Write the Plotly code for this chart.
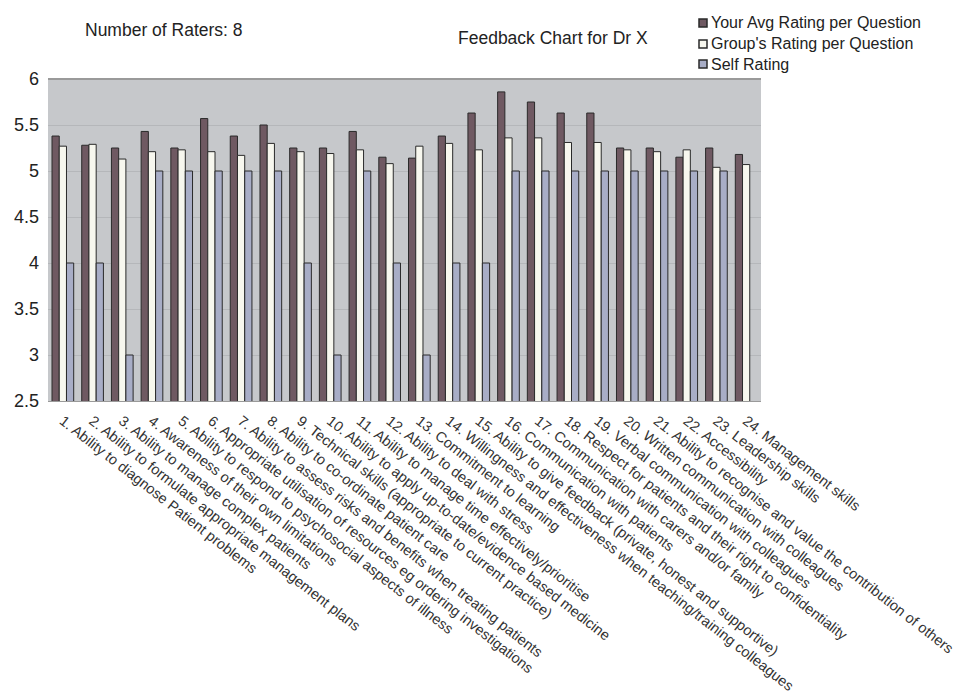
import plotly.graph_objects as go

categories = [
    "1. Ability to diagnose Patient problems",
    "2. Ability to formulate appropriate management plans",
    "3. Ability to manage complex patients",
    "4. Awareness of their own limitations",
    "5. Ability to respond to psychosocial aspects of illness",
    "6. Appropriate utilisation of resources eg ordering investigations",
    "7. Ability to assess risks and benefits when treating patients",
    "8. Ability to co-ordinate patient care",
    "9. Technical skills (appropriate to current practice)",
    "10. Ability to apply up-to-date/evidence based medicine",
    "11. Ability to manage time effectively/prioritise",
    "12. Ability to deal with stress",
    "13. Commitment to learning",
    "14. Willingness and effectiveness when teaching/training colleagues",
    "15. Ability to give feedback (private, honest and supportive)",
    "16. Communication with patients",
    "17. Communication with carers and/or family",
    "18. Respect for patients and their right to confidentiality",
    "19. Verbal communication with colleagues",
    "20. Written communication with colleagues",
    "21. Ability to recognise and value the contribution of others",
    "22. Accessibility",
    "23. Leadership skills",
    "24. Management skills",
]

your_avg = [5.38, 5.28, 5.25, 5.43, 5.25, 5.57, 5.38, 5.5, 5.25, 5.25, 5.43, 5.15,
            5.14, 5.38, 5.63, 5.86, 5.75, 5.63, 5.63, 5.25, 5.25, 5.15, 5.25, 5.18]
group_avg = [5.27, 5.29, 5.13, 5.21, 5.23, 5.21, 5.17, 5.30, 5.21, 5.19, 5.23, 5.08,
             5.27, 5.30, 5.23, 5.36, 5.36, 5.31, 5.31, 5.23, 5.21, 5.23, 5.04, 5.07]
self_rating = [4, 4, 3, 5, 5, 5, 5, 5, 4, 3, 5, 4,
               3, 4, 4, 5, 5, 5, 5, 5, 5, 5, 5, None]

y_ticks = [2.5, 3, 3.5, 4, 4.5, 5, 5.5, 6]
y_tick_labels = ["2.5", "3", "3.5", "4", "4.5", "5", "5.5", "6"]

series_names = ["Your Avg Rating per Question", "Group's Rating per Question", "Self Rating"]
series_colors = ["#6f5962", "#f7f7ee", "#a8adc6"]

fig = go.Figure()
for name, vals, col in zip(series_names, [your_avg, group_avg, self_rating], series_colors):
    fig.add_trace(go.Bar(
        x=categories, y=vals, name=name,
        marker=dict(color=col, line=dict(color="#2a2a2a", width=1)),
        showlegend=False,
    ))

font_family = "Liberation Sans, Arial, sans-serif"

fig.update_layout(
    width=963, height=697,
    margin=dict(l=48, r=202, t=79, b=296),
    paper_bgcolor="white",
    plot_bgcolor="#c6c8cb",
    barmode="group",
    bargap=0.27,
    bargroupgap=0,
    font=dict(family=font_family, color="#222222"),
    xaxis=dict(
        tickangle=38,
        tickfont=dict(size=14.5, color="#333333"),
        ticklabelstandoff=5,
        showline=True, linecolor="#9a9a9a", linewidth=1,
        ticks="", showgrid=False,
        range=[-0.5, 23.5],
        automargin=False,
    ),
    yaxis=dict(
        range=[2.5, 6],
        tickmode="array",
        tickvals=y_ticks,
        ticktext=y_tick_labels,
        tickfont=dict(size=18, color="#222222"),
        ticklabelstandoff=8,
        gridcolor="#b5b7ba", gridwidth=1,
        showline=False,
        ticks="", ticklen=0,
        zeroline=False,
        automargin=False,
    ),
)

# plot frame top line
fig.add_shape(type="line", xref="paper", yref="paper", x0=0, x1=1, y0=1, y1=1,
              line=dict(color="#9a9a9a", width=2))

fig.add_annotation(text="Number of Raters: 8", xref="paper", yref="paper",
                   x=(83 - 48) / 713, y=(401 - 30) / 322, xanchor="left", yanchor="middle",
                   showarrow=False, font=dict(size=17.5, color="#222222"))
fig.add_annotation(text="Feedback Chart for Dr X", xref="paper", yref="paper",
                   x=(456 - 48) / 713, y=(401 - 38) / 322, xanchor="left", yanchor="middle",
                   showarrow=False, font=dict(size=17.5, color="#222222"))

# manual legend
leg_y = [23, 44, 64]
for name, col, yy in zip(series_names, series_colors, leg_y):
    x0 = (699 - 48) / 713
    x1 = (707 - 48) / 713
    y0 = (401 - (yy + 4)) / 322
    y1 = (401 - (yy - 4)) / 322
    fig.add_shape(type="rect", xref="paper", yref="paper", x0=x0, x1=x1, y0=y0, y1=y1,
                  fillcolor=col, line=dict(color="#2a2a2a", width=1.5))
    fig.add_annotation(text=name, xref="paper", yref="paper",
                       x=(709 - 48) / 713, y=(401 - yy) / 322, xanchor="left", yanchor="middle",
                       showarrow=False, font=dict(size=16, color="#222222"))

fig.write_html("out.html")
